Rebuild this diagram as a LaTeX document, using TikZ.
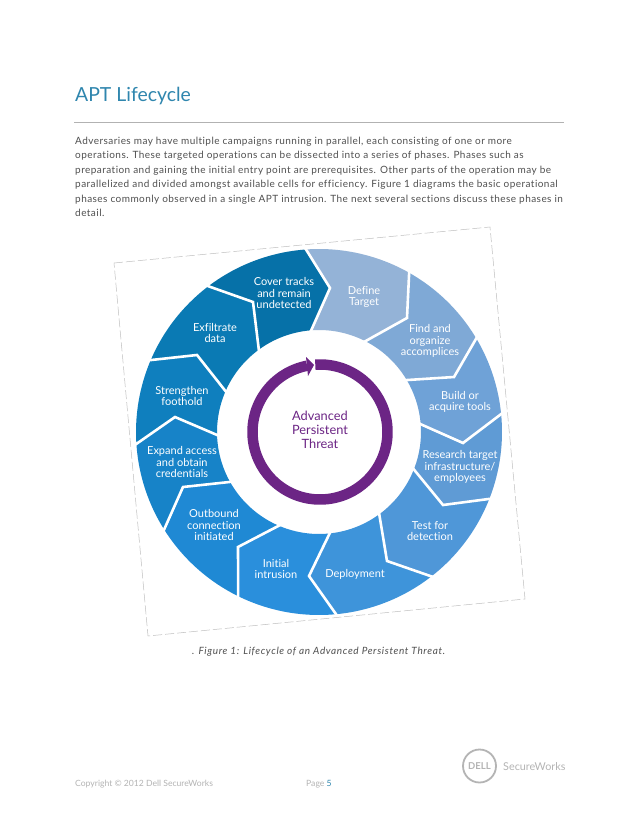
\documentclass[tikz,border=0pt]{standalone}
\usepackage{fontspec}
\setmainfont{Lato}[Ligatures=NoCommon]
\usetikzlibrary{positioning, calc}

\definecolor{aptBlue}{HTML}{2F86AE}
\definecolor{bodyGray}{HTML}{505050}
\definecolor{footGray}{HTML}{B4B4B4}
\definecolor{ringPurple}{HTML}{6C2585}
\definecolor{segA}{HTML}{94B3D7}
\definecolor{segB}{HTML}{7FA9D6}
\definecolor{segC}{HTML}{6FA2D7}
\definecolor{segD}{HTML}{5F9BD5}
\definecolor{segE}{HTML}{4F97D8}
\definecolor{segF}{HTML}{3E94DA}
\definecolor{segG}{HTML}{2A8FDC}
\definecolor{segH}{HTML}{1F89D4}
\definecolor{segI}{HTML}{1783C8}
\definecolor{segJ}{HTML}{0F7FBE}
\definecolor{segK}{HTML}{0A7AB4}
\definecolor{segL}{HTML}{0671A8}

\tikzset{
  phase/.style={text=white,align=center,font=\fontsize{11}{11.4}\selectfont},
  bodytext/.style={anchor=north west,inner sep=0pt,align=left,text=bodyGray,font=\fontsize{10}{14.4}\selectfont\addfontfeatures{LetterSpace=4.5}},
  foot/.style={anchor=base west,inner sep=0pt,text=footGray,font=\fontsize{8.6}{10}\selectfont}
}

\begin{document}
\begin{tikzpicture}[x=1pt,y=1pt,yscale=-1]
    \useasboundingbox (0,0) rectangle (638,826);
    \fill[white] (0,0) rectangle (638,826);

    % header
    \node[anchor=base west,inner sep=0pt,text=aptBlue,font=\fontsize{19.4}{22}\selectfont] (title) at (75,102) {APT Lifecycle};
    \coordinate (ruleL) at (74,122);
    \coordinate (ruleR) at (564,122);
    \draw[black!30,line width=.8pt] (ruleL) -- (ruleR);
    \node[bodytext] (intro) at (75,137) {Adversaries may have multiple campaigns running in parallel, each consisting of one or more\\
      operations. These targeted operations can be dissected into a series of phases. Phases such as\\
      preparation and gaining the initial entry point are prerequisites. Other parts of the operation may be\\
      parallelized and divided amongst available cells for efficiency. Figure 1 diagrams the basic operational\\
      phases commonly observed in a single APT intrusion. The next several sections discuss these phases in\\
      detail.};

    % dashed frame
    \coordinate (frameA) at (114,263);
    \coordinate (frameB) at (490,227);
    \coordinate (frameC) at (525,599);
    \coordinate (frameD) at (148,636);
    \draw[black!25,line width=.5pt,dash pattern=on 9pt off 3pt] (frameA) -- (frameB) -- (frameC) -- (frameD) -- cycle;

    % wheel
    \coordinate (hub) at (319,432);
    \foreach \col/\oa/\ia/\ta/\ob/\ib/\tb in {
      segA/265.6/265/{330,288}/299.2/296.3/{407,318},
      segB/299.2/296.3/{407,318}/328.9/328.8/{454,377},
      segC/328.9/328.8/{454,377}/354/355/{463,443},
      segD/354/355/{463,443}/381.1/380.9/{443,505},
      segE/21.1/20.9/{443,505}/51.7/53.2/{387,561},
      segF/51.7/53.2/{387,561}/84.3/83.3/{309,576},
      segG/84.3/83.3/{309,576}/115.9/112.3/{238,547},
      segH/115.9/112.3/{238,547}/147.4/150.2/{183,487},
      segI/147.4/150.2/{183,487}/175.9/177.8/{175,417},
      segJ/175.9/177.8/{175,417}/202.8/203/{197,355},
      segK/202.8/203/{197,355}/232.4/233.2/{253,302},
      segL/232.4/233.2/{253,302}/265.6/265/{330,288}} {
      \fill[\col] ($(hub)+(\oa:183)$) arc[start angle=\oa,end angle=\ob,radius=183]
        -- (\tb) -- ($(hub)+(\ib:102)$) arc[start angle=\ib,end angle=\ia,radius=102]
        -- (\ta) -- cycle;
    }
    \foreach \oa/\ia/\ta in {265.6/265/{330,288}, 299.2/296.3/{407,318}, 328.9/328.8/{454,377},
      354/355/{463,443}, 21.1/20.9/{443,505}, 51.7/53.2/{387,561}, 84.3/83.3/{309,576},
      115.9/112.3/{238,547}, 147.4/150.2/{183,487}, 175.9/177.8/{175,417}, 202.8/203/{197,355},
      232.4/233.2/{253,302}} {
      \draw[white,line width=2.6pt] ($(hub)+(\oa:185)$) -- (\ta) -- ($(hub)+(\ia:100)$);
    }

    \node[phase] (define) at (364,297) {Define\\Target};
    \node[phase] (find) at (430,341) {Find and\\organize\\accomplices};
    \node[phase] (build) at (460,402) {Build or\\acquire tools};
    \node[phase] (research) at (460,467) {Research target\\infrastructure/\\employees};
    \node[phase] (test) at (430,531) {Test for\\detection};
    \node[phase] (deploy) at (355,574) {Deployment};
    \node[phase] (initial) at (276,569) {Initial\\intrusion};
    \node[phase] (outbound) at (214,525) {Outbound\\connection\\initiated};
    \node[phase] (expand) at (182,462) {Expand access\\and obtain\\credentials};
    \node[phase] (strengthen) at (182,396) {Strengthen\\foothold};
    \node[phase] (exfil) at (215,333) {Exfiltrate\\data};
    \node[phase] (cover) at (284,293) {Cover tracks\\and remain\\undetected};

    % centre ring
    \coordinate (ringc) at (320,432);
    \draw[ringPurple,line width=10.5pt] ($(ringc)+(-94:67.5)$) arc[start angle=-94,end angle=259,radius=67.5];
    \coordinate (tipA) at (306,357);
    \coordinate (tipB) at (314,365);
    \coordinate (tipC) at (308,376);
    \fill[ringPurple] (tipA) -- (tipB) -- (tipC) -- cycle;
    \node[text=ringPurple,align=center,font=\fontsize{12.8}{13.7}\selectfont] (threat) at (320,430) {Advanced\\Persistent\\Threat};

    % caption and footer
    \node[anchor=base west,inner sep=0pt,text=bodyGray,font=\itshape\fontsize{10}{12}\selectfont\addfontfeatures{LetterSpace=6.5}] (caption) at (192,654) {. Figure 1: Lifecycle of an Advanced Persistent Threat.};
    \node[foot] (copyright) at (75,786) {Copyright © 2012 Dell SecureWorks};
    \node[foot] (page) at (306,786) {Page \textcolor{aptBlue}{5}};
    \node[circle,draw=footGray,line width=1.8pt,minimum size=33pt,inner sep=0pt,text=footGray,font=\bfseries\fontsize{9.5}{10}\selectfont] (logo) at (479.5,766) {DELL};
    \node[anchor=west,inner sep=0pt,text=footGray,font=\fontsize{10.8}{12}\selectfont] (works) at (503,767) {SecureWorks};
\end{tikzpicture}
\end{document}
